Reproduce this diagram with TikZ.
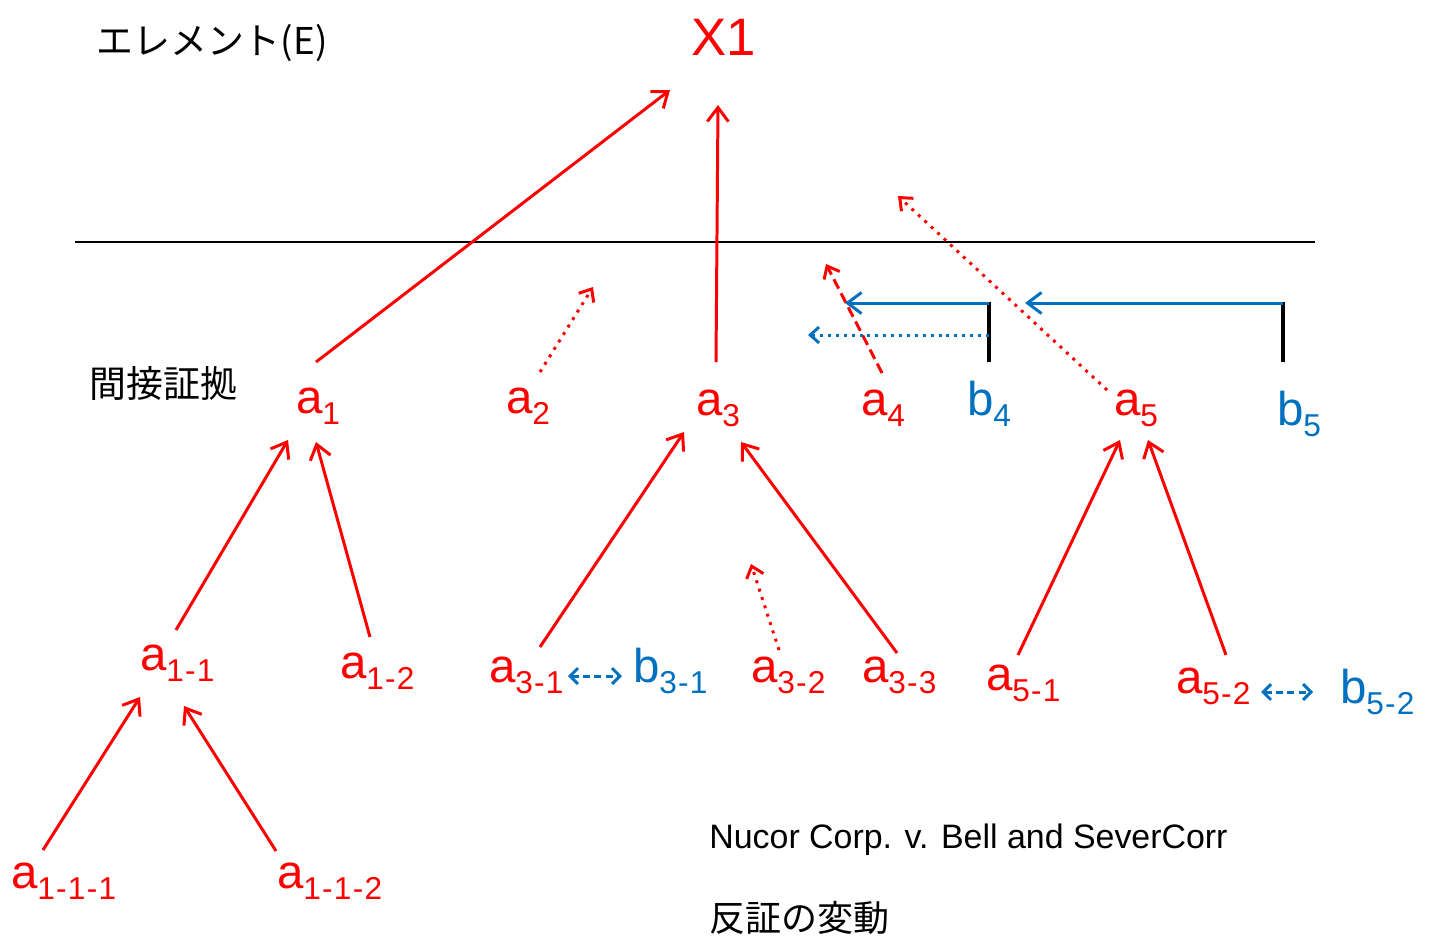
\documentclass[tikz,border=0pt]{standalone}
\usepackage{fontspec}
\setmainfont{Liberation Sans}
\newfontfamily\jpfont{Noto Sans CJK JP}
\usepackage{xcolor}
\usepackage{tikz}
\usetikzlibrary{arrows.meta,calc}
\definecolor{evblue}{RGB}{0,112,192}
\newcommand{\dash}{\kern0.7pt-\kern0.7pt}
\newcommand{\sublbl}[2]{#1\raisebox{-6.5pt}{\fontsize{18}{18}\selectfont #2}}

\begin{document}
\begin{tikzpicture}[
  x=0.02cm, y=-0.02cm,
  lbl/.style={anchor=base west, inner sep=0pt, outer sep=0pt, font=\fontsize{27}{30}\selectfont},
  alab/.style={lbl, text=red},
  blab/.style={lbl, text=evblue},
  jtxt/.style={anchor=west, inner sep=0pt, font=\jpfont\fontsize{21}{24}\selectfont},
  link/.style={red, line width=1.7pt, -{Straight Barb[length=8pt,width=12pt]}},
  hint/.style={red, line width=1.7pt, dash pattern=on 1.7pt off 3.3pt, -{Straight Barb[length=6pt,width=10pt]}},
  weak/.style={red, line width=1.7pt, dash pattern=on 6pt off 3pt, -{Straight Barb[length=6pt,width=10pt]}},
  rebut/.style={evblue, line width=1.7pt, -{Straight Barb[length=8pt,width=12pt]}},
  rebuthint/.style={evblue, line width=1.7pt, dash pattern=on 1.7pt off 2.8pt, -{Straight Barb[length=5pt,width=9pt]}},
  pair/.style={evblue, line width=1.7pt, dash pattern=on 4pt off 2.5pt, {Straight Barb[length=4.5pt,width=9pt]}-{Straight Barb[length=4.5pt,width=9pt]}},
  bar/.style={black, line width=2.2pt}
]
\useasboundingbox (0,0) rectangle (1433,937);

\node[jtxt] (elem) at (96,43) {エレメント(E)};
\node[jtxt] (indirect) at (89,383) {間接証拠};
\node[alab, font=\fontsize{30}{34}\selectfont] (x1) at (691,55) {X1};

\draw[line width=0.8pt] (75,242) -- (1315,242);

\node[alab] (a1) at (296,413) {\sublbl{a}{1}};
\node[alab] (a2) at (506,413) {\sublbl{a}{2}};
\node[alab] (a3) at (696,415) {\sublbl{a}{3}};
\node[alab] (a4) at (861,415) {\sublbl{a}{4}};
\node[blab] (b4) at (967,415) {\sublbl{b}{4}};
\node[alab] (a5) at (1114,415) {\sublbl{a}{5}};
\node[blab] (b5) at (1277,425) {\sublbl{b}{5}};

\node[alab] (a11) at (140,670) {\sublbl{a}{1\dash1}};
\node[alab] (a12) at (340,678) {\sublbl{a}{1\dash2}};
\node[alab] (a31) at (489,682) {\sublbl{a}{3\dash1}};
\node[blab] (b31) at (633,682) {\sublbl{b}{3\dash1}};
\node[alab] (a32) at (751,682) {\sublbl{a}{3\dash2}};
\node[alab] (a33) at (862,682) {\sublbl{a}{3\dash3}};
\node[alab] (a51) at (986,690) {\sublbl{a}{5\dash1}};
\node[alab] (a52) at (1176,693) {\sublbl{a}{5\dash2}};
\node[blab] (b52) at (1340,703) {\sublbl{b}{5\dash2}};

\node[alab] (a111) at (11,888) {\sublbl{a}{1\dash1\dash1}};
\node[alab] (a112) at (277,888) {\sublbl{a}{1\dash1\dash2}};

\node[anchor=base west, inner sep=0pt, font=\fontsize{19.3}{22}\selectfont] (case) at (709,848) {Nucor Corp. v. Bell and SeverCorr};
\node[jtxt, font=\jpfont\fontsize{20.5}{22}\selectfont] (shift) at (709,918) {反証の変動};

\draw[link] ($(a1.base west)+(20,-51)$) -- ($(x1.base west)+(-21,35)$);
\draw[link] ($(a3.base west)+(20,-53)$) -- ($(x1.base west)+(27,50)$);
\draw[hint] ($(a2.base west)+(34,-41)$) -- ($(a2.base west)+(87,-126)$);
\draw[weak] ($(a4.base west)+(21,-42)$) -- ($(a4.base west)+(-35,-151)$);
\draw[hint] ($(a5.base west)+(-7,-25)$) -- ($(a5.base west)+(-216,-219)$);

\draw[bar] ($(b4.base west)+(22,-113)$) -- ($(b4.base west)+(22,-53)$);
\draw[rebut] ($(b4.base west)+(22,-112)$) -- ($(b4.base west)+(-122,-112)$);
\draw[rebuthint] ($(b4.base west)+(22,-80)$) -- ($(b4.base west)+(-159,-80)$);
\draw[bar] ($(b5.base west)+(6,-123)$) -- ($(b5.base west)+(6,-63)$);
\draw[rebut] ($(b5.base west)+(6,-122)$) -- ($(b5.base west)+(-252,-122)$);

\draw[link] ($(a11.base west)+(36,-40)$) -- ($(a1.base west)+(-8,27)$);
\draw[link] ($(a12.base west)+(30,-41)$) -- ($(a1.base west)+(20,29)$);
\draw[link] ($(a31.base west)+(51,-35)$) -- ($(a3.base west)+(-12,17)$);
\draw[link] ($(a33.base west)+(35,-29)$) -- ($(a3.base west)+(45,27)$);
\draw[hint] ($(a32.base west)+(28,-32)$) -- ($(a32.base west)+(0,-118)$);
\draw[link] ($(a51.base west)+(32,-35)$) -- ($(a5.base west)+(6,25)$);
\draw[link] ($(a52.base west)+(50,-38)$) -- ($(a5.base west)+(34,25)$);
\draw[link] ($(a111.base west)+(32,-38)$) -- ($(a11.base west)+(0,27)$);
\draw[link] ($(a112.base west)+(-1,-37)$) -- ($(a11.base west)+(44,36)$);

\draw[pair] ($(a31.base west)+(79,-6)$) -- ($(b31.base west)+(-11,-6)$);
\draw[pair] ($(a52.base west)+(85,-1)$) -- ($(b52.base west)+(-27,-11)$);

\end{tikzpicture}
\end{document}
